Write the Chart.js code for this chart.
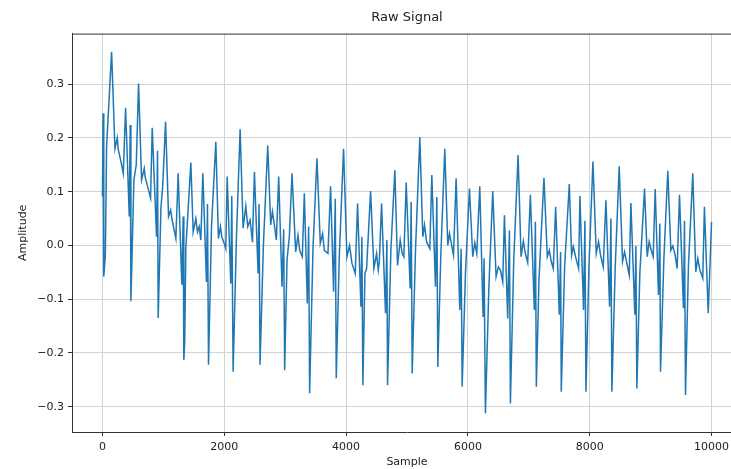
<!DOCTYPE html>
<html>
<head>
<meta charset="utf-8">
<script src="https://cdn.jsdelivr.net/npm/chart.js@4.4.1/dist/chart.umd.min.js"></script>
<style>
  html, body { margin: 0; padding: 0; background: #fff; overflow: hidden; }
  #wrap { position: relative; width: 731px; height: 469px; overflow: hidden; }
  canvas { position: absolute; left: 0; top: 0; }
</style>
</head>
<body>
<div id="wrap"><canvas id="chart" width="743" height="469"></canvas></div>
<script>
// Valeurs (échantillon -> amplitude)
const samples = [
  0, 10, 18, 25, 47, 68, 150, 205, 243, 260, 300, 342, 380, 440, 456, 467, 516, 555, 593, 642,
  686, 700, 745, 790, 817, 888, 904, 915, 960, 990, 1036, 1085, 1120, 1140, 1205, 1243, 1303, 1325, 1336, 1350,
  1369, 1451, 1489, 1533, 1560, 1588, 1615, 1648, 1708, 1724, 1741, 1790, 1861, 1904, 1937, 1959, 1997, 2025, 2047, 2107,
  2123, 2145, 2200, 2260, 2309, 2353, 2385, 2424, 2462, 2495, 2555, 2571, 2587, 2642, 2713, 2762, 2790, 2820, 2855, 2893,
  2948, 2975, 2991, 3030, 3068, 3112, 3172, 3210, 3237, 3281, 3314, 3363, 3385, 3401, 3456, 3521, 3576, 3614, 3642, 3702,
  3745, 3795, 3822, 3838, 3887, 3958, 4013, 4057, 4095, 4150, 4188, 4243, 4259, 4275, 4309, 4336, 4402, 4456, 4500, 4527,
  4545, 4582, 4647, 4669, 4680, 4735, 4800, 4844, 4888, 4921, 4948, 4986, 5052, 5068, 5085, 5139, 5210, 5259, 5287, 5320,
  5374, 5407, 5467, 5489, 5505, 5554, 5620, 5669, 5697, 5763, 5806, 5866, 5888, 5905, 5959, 6025, 6079, 6112, 6145, 6194,
  6249, 6265, 6287, 6342, 6407, 6462, 6500, 6533, 6571, 6599, 6653, 6681, 6697, 6752, 6823, 6872, 6910, 6943, 6981, 7025,
  7090, 7107, 7123, 7166, 7248, 7303, 7336, 7368, 7401, 7440, 7500, 7521, 7532, 7587, 7664, 7702, 7729, 7767, 7817, 7838,
  7898, 7920, 7937, 7986, 8052, 8106, 8144, 8177, 8221, 8265, 8325, 8347, 8363, 8418, 8483, 8538, 8571, 8648, 8675, 8740,
  8757, 8773, 8822, 8899, 8943, 8975, 9008, 9041, 9074, 9128, 9150, 9161, 9216, 9281, 9331, 9363, 9402, 9434, 9473, 9538,
  9555, 9571, 9620, 9691, 9740, 9773, 9806, 9855, 9882, 9945, 9999,
];
const amplitude = [
  0.091, 0.246, 0.09, -0.058, -0.02, 0.184, 0.36, 0.18, 0.2, 0.178, 0.158, 0.134, 0.256, 0.054, 0.224, -0.104, 0.122, 0.15, 0.301, 0.122,
  0.143, 0.128, 0.108, 0.088, 0.219, 0.016, 0.176, -0.135, 0.07, 0.112, 0.23, 0.054, 0.066, 0.05, 0.013, 0.134, -0.073, 0.054, -0.213, -0.18,
  -0.005, 0.154, 0.025, 0.05, 0.025, 0.035, 0.01, 0.134, -0.068, 0.077, -0.222, 0.035, 0.193, 0.013, 0.035, 0.016, 0.004, -0.006, 0.128, -0.071,
  0.092, -0.235, 0.016, 0.216, 0.032, 0.073, 0.035, 0.047, 0.006, 0.137, -0.052, 0.077, -0.222, 0.0, 0.186, 0.038, 0.063, 0.04, 0.01, 0.128,
  -0.077, 0.03, -0.232, -0.027, 0.016, 0.134, -0.012, 0.019, -0.009, -0.021, 0.097, -0.108, 0.035, -0.275, -0.006, 0.162, 0.004, 0.022, -0.009, -0.015,
  0.11, -0.086, 0.087, -0.247, -0.024, 0.18, -0.021, 0.0, -0.033, -0.052, 0.078, -0.114, 0.016, -0.26, -0.052, -0.043, 0.101, -0.043, -0.015, -0.046,
  -0.03, 0.078, -0.126, 0.01, -0.26, -0.009, 0.14, -0.037, 0.01, -0.015, -0.021, 0.117, -0.08, 0.081, -0.238, -0.009, 0.201, 0.016, 0.038, 0.007,
  -0.006, 0.131, -0.077, 0.09, -0.226, -0.021, 0.18, 0.0, 0.022, -0.018, 0.125, -0.12, -0.006, -0.263, -0.052, 0.106, -0.021, 0.005, -0.015, 0.11,
  -0.133, -0.024, -0.312, -0.083, 0.101, -0.058, -0.04, -0.046, -0.068, 0.056, -0.136, 0.028, -0.294, -0.027, 0.168, -0.021, 0.008, -0.015, -0.032, 0.094,
  -0.12, 0.044, -0.263, -0.064, 0.126, -0.021, -0.009, -0.03, -0.043, 0.072, -0.129, -0.012, -0.272, -0.04, 0.114, -0.018, -0.002, -0.021, -0.043, 0.092,
  -0.12, 0.046, -0.272, -0.04, 0.156, -0.015, 0.007, -0.018, -0.04, 0.084, -0.114, 0.05, -0.272, -0.04, 0.147, -0.03, -0.012, -0.055, 0.079, -0.129,
  -0.001, -0.266, -0.052, 0.106, -0.021, 0.007, -0.009, -0.021, 0.105, -0.092, 0.041, -0.235, -0.027, 0.139, -0.009, -0.001, -0.018, -0.043, 0.094, -0.117,
  0.046, -0.278, -0.037, 0.134, -0.049, -0.024, -0.045, -0.061, 0.072, -0.126, 0.044,
];

const xTicks = [0, 2000, 4000, 6000, 8000, 10000];
const yTicks = [-0.3, -0.2, -0.1, 0.0, 0.1, 0.2, 0.3];

const FONT   = "'DejaVu Sans', sans-serif";
const INK    = "#222222";
const GRID   = "#d3d3d3";

// cadre haut/droite façon matplotlib
const framePlugin = {
  id: "frame",
  afterDatasetsDraw(chart) {
    const { ctx, chartArea: a } = chart;
    ctx.save();
    ctx.strokeStyle = "#333333";
    ctx.lineWidth = 1;
    ctx.beginPath();
    ctx.moveTo(a.left, a.top + 0.5);
    ctx.lineTo(a.right, a.top + 0.5);
    ctx.moveTo(a.right - 0.5, a.top);
    ctx.lineTo(a.right - 0.5, a.bottom);
    ctx.stroke();
    ctx.restore();
  },
};

const fmtY = v => {
  const s = Math.abs(v) < 1e-9 ? "0.0" : v.toFixed(1);
  return s.replace("-", "\u2212");
};

const ctx = document.getElementById("chart").getContext("2d");
new Chart(ctx, {
  type: "line",
  data: {
    datasets: [{
      data: samples.map((s, i) => ({ x: s, y: amplitude[i] })),
      borderColor: "#1f77b4",
      borderWidth: 1.5,
      pointRadius: 0,
      tension: 0,
      fill: false,
    }],
  },
  options: {
    responsive: false,
    animation: false,
    devicePixelRatio: 1,
    layout: { padding: { top: 0, right: 1, bottom: 0, left: 0 } },
    plugins: {
      legend: { display: false },
      tooltip: { enabled: false },
      title: {
        display: true,
        text: "Raw Signal",
        fullSize: false,
        color: INK,
        font: { family: FONT, size: 13, weight: "normal" },
        padding: { top: 10, bottom: 8 },
      },
    },
    scales: {
      x: {
        type: "linear",
        min: -500,
        max: 10499,
        afterBuildTicks: axis => { axis.ticks = xTicks.map(v => ({ value: v })); },
        afterFit: axis => { axis.height = 37; },
        ticks: { color: INK, font: { family: FONT, size: 11 }, padding: 5, maxRotation: 0,
                 callback: v => String(v) },
        grid: { color: GRID, lineWidth: 1, tickColor: "#333333", tickLength: 4 },
        border: { display: true, color: "#333333", width: 1 },
        title: { display: true, text: "Sample", color: INK, font: { family: FONT, size: 11 },
                 padding: { top: 0, bottom: 0 } },
      },
      y: {
        min: -0.347,
        max: 0.394,
        afterBuildTicks: axis => { axis.ticks = yTicks.map(v => ({ value: v })); },
        afterFit: axis => { axis.width = 72; },
        ticks: { color: INK, font: { family: FONT, size: 11 }, padding: 4, callback: fmtY },
        grid: { color: GRID, lineWidth: 1, tickColor: "#333333", tickLength: 4 },
        border: { display: true, color: "#333333", width: 1 },
        title: { display: true, text: "Amplitude", color: INK, font: { family: FONT, size: 11 },
                 padding: { top: 17, bottom: 0 } },
      },
    },
  },
  plugins: [framePlugin],
});
</script>
</body>
</html>
